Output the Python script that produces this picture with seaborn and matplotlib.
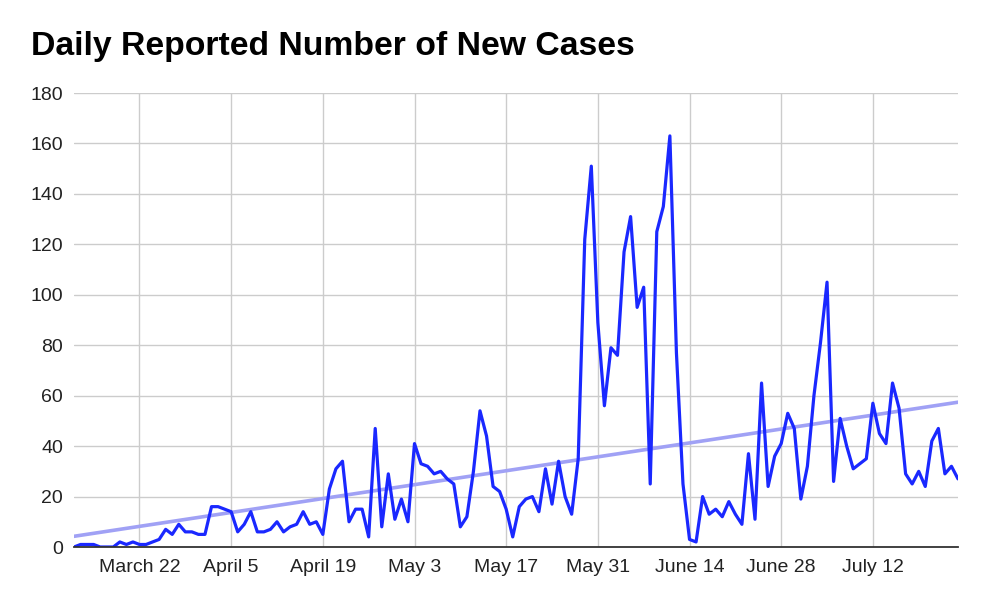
import pandas as pd
import matplotlib.pyplot as plt
import seaborn as sns
import numpy as np

# daily new cases, one value per day from March 12 to July 25
start_date = '2020-03-12'
new_cases = [0, 1, 1, 1, 0, 0, 0, 2, 1, 2,
             1, 1, 2, 3, 7, 5, 9, 6, 6, 5,
             5, 16, 16, 15, 14, 6, 9, 14, 6, 6,
             7, 10, 6, 8, 9, 14, 9, 10, 5, 23,
             31, 34, 10, 15, 15, 4, 47, 8, 29, 11,
             19, 10, 41, 33, 32, 29, 30, 27, 25, 8,
             12, 30, 54, 44, 24, 22, 15, 4, 16, 19,
             20, 14, 31, 17, 34, 20, 13, 35, 122, 151,
             89, 56, 79, 76, 117, 131, 95, 103, 25, 125,
             135, 163, 77, 25, 3, 2, 20, 13, 15, 12,
             18, 13, 9, 37, 11, 65, 24, 36, 41, 53,
             47, 19, 32, 60, 81, 105, 26, 51, 40, 31,
             33, 35, 57, 45, 41, 65, 55, 29, 25, 30,
             24, 42, 47, 29, 32, 27]

tick_dates = ['2020-03-22', '2020-04-05', '2020-04-19', '2020-05-03', '2020-05-17',
              '2020-05-31', '2020-06-14', '2020-06-28', '2020-07-12']
tick_labels = ['March 22', 'April 5', 'April 19', 'May 3', 'May 17',
               'May 31', 'June 14', 'June 28', 'July 12']
y_ticks = [0, 20, 40, 60, 80, 100, 120, 140, 160, 180]

dates = pd.date_range(start_date, periods=len(new_cases), freq='D')
df = pd.DataFrame({'day': (dates - dates[0]).days, 'cases': new_cases})
tick_pos = [(pd.Timestamp(t) - dates[0]).days for t in tick_dates]

sns.set_style('white')
plt.rcParams['font.family'] = ['Liberation Sans', 'DejaVu Sans']

fig = plt.figure(figsize=(9.88, 6.06), dpi=100)
ax = fig.add_axes([74 / 988, 1 - 547 / 606, (958 - 74) / 988, (547 - 93) / 606])

# trendline (linear fit) under the data line
sns.regplot(data=df, x='day', y='cases', scatter=False, ci=None, ax=ax,
            line_kws={'color': '#a0a1f5', 'lw': 2.6, 'zorder': 2})
sns.lineplot(data=df, x='day', y='cases', ax=ax, color='#1a28ff', lw=2.3, zorder=3)

ax.set_xlim(df['day'].min(), df['day'].max())
ax.set_ylim(0, 180)
ax.set_yticks(y_ticks)
ax.set_xticks(tick_pos)
ax.set_xticklabels(tick_labels)
ax.set_xlabel('')
ax.set_ylabel('')
ax.grid(True, color='#cccccc', lw=1.0)
ax.set_axisbelow(True)
ax.tick_params(axis='both', length=0, labelsize=14, colors='#222222')
ax.tick_params(axis='y', pad=8)
ax.tick_params(axis='x', pad=9)
for s in ['top', 'right', 'left']:
    ax.spines[s].set_visible(False)
ax.spines['bottom'].set_color('#333333')
ax.spines['bottom'].set_linewidth(1.3)
ax.spines['bottom'].set_zorder(4)

fig.text(31 / 988, 1 - 55 / 606, 'Daily Reported Number of New Cases',
         fontsize=24.3, fontweight='bold', color='#000000', va='baseline', ha='left')

fig.savefig('out.png', dpi=100)
